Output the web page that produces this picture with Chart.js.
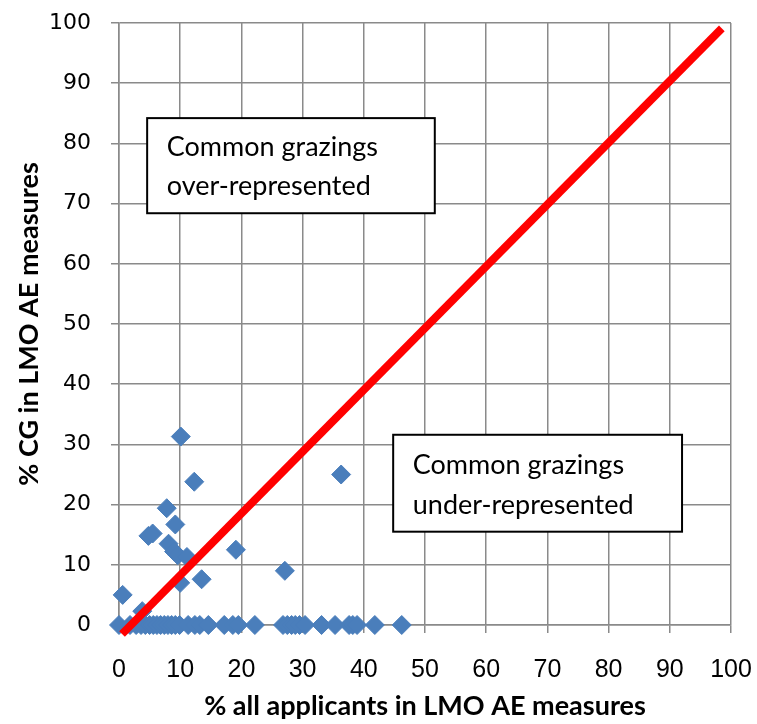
<!DOCTYPE html>
<html>
<head>
<meta charset="utf-8">
<script src="https://cdn.jsdelivr.net/npm/chart.js@4.4.1/dist/chart.umd.min.js"></script>
<style>
  html, body { margin: 0; padding: 0; background: #fff; }
</style>
</head>
<body>
<canvas id="cgChart" width="757" height="724"></canvas>
<script>
// % of all applicants vs % of common grazings in LMO AE measures
const allApplicants = [
    10.1, 12.3, 36.3, 7.8, 9.2, 4.8, 5.5, 8.1, 9.0, 9.6, 11.1, 19.1, 27.1, 13.5, 10.0, 0.6, 3.8,
    0, 1.8, 2.8, 3.6, 4.3, 5.0, 5.6, 6.2, 6.8, 7.4, 8.0, 8.6, 9.2, 9.9, 11.3, 12.4, 13.2, 14.6,
    17.2, 18.6, 19.5, 22.2, 26.8, 27.5, 28.2, 28.8, 29.5, 30.4, 33.1, 35.3, 37.6, 38.2, 38.9, 41.8, 46.2
];
const cgShare = [
    31.3, 23.8, 25.0, 19.4, 16.7, 14.8, 15.2, 13.5, 12.2, 11.6, 11.3, 12.5, 9.0, 7.6, 7.0, 5.0, 2.3,
    0, 0, 0, 0, 0, 0, 0, 0, 0, 0, 0, 0, 0, 0, 0, 0, 0, 0,
    0, 0, 0, 0, 0, 0, 0, 0, 0, 0, 0, 0, 0, 0, 0, 0, 0
];

// equal-share reference line as drawn in the original
const diagX = [0.5, 98.5];
const diagY = [-1.5, 99.1];

const xTicks = [0, 10, 20, 30, 40, 50, 60, 70, 80, 90, 100];
const yTicks = [0, 10, 20, 30, 40, 50, 60, 70, 80, 90, 100];

const xTitle = '% all applicants in LMO AE measures';
const yTitle = '% CG in LMO AE measures';
const boxTexts = [
    ['Common grazings', 'over-represented'],
    ['Common grazings', 'under-represented']
];

const gridColor = '#8a8a8a';

// text boxes, placed in data units
const boxes = [
    { x0: 4.6, x1: 51.6, y0: 84.2, y1: 68.4, tx: 7.8, lines: [79.4, 72.9] },
    { x0: 44.8, x1: 92.0, y0: 31.6, y1: 15.5, tx: 48.0, lines: [26.6, 19.9] }
];

const textBoxPlugin = {
    id: 'textBoxes',
    afterDatasetsDraw(chart) {
        const { ctx, scales: { x, y } } = chart;
        ctx.save();
        boxes.forEach((b, i) => {
            const left = x.getPixelForValue(b.x0);
            const right = x.getPixelForValue(b.x1);
            const top = y.getPixelForValue(b.y0);
            const bottom = y.getPixelForValue(b.y1);
            ctx.fillStyle = '#fff';
            ctx.fillRect(left, top, right - left, bottom - top);
            ctx.strokeStyle = '#000';
            ctx.lineWidth = 2;
            ctx.strokeRect(left, top, right - left, bottom - top);
            ctx.fillStyle = '#000';
            ctx.font = '27px Lato';
            ctx.textBaseline = 'middle';
            ctx.textAlign = 'left';
            boxTexts[i].forEach((t, j) => {
                ctx.fillText(t, x.getPixelForValue(b.tx), y.getPixelForValue(b.lines[j]));
            });
        });
        ctx.restore();
    }
};

const ctx = document.getElementById('cgChart').getContext('2d');

new Chart(ctx, {
    data: {
        datasets: [{
            type: 'line',
            data: diagX.map((v, i) => ({ x: v, y: diagY[i] })),
            borderColor: '#ff0000',
            borderWidth: 8,
            pointRadius: 0,
            clip: false,
            order: 0
        }, {
            type: 'scatter',
            data: allApplicants.map((v, i) => ({ x: v, y: cgShare[i] })),
            pointStyle: 'rectRot',
            pointRadius: 9.5,
            backgroundColor: '#4a7ebb',
            borderColor: '#4a7ebb',
            borderWidth: 1,
            clip: false,
            order: 1
        }]
    },
    plugins: [textBoxPlugin],
    options: {
        responsive: false,
        devicePixelRatio: 1,
        animation: false,
        layout: { padding: { top: 23, right: 26, bottom: 0, left: 0 } },
        plugins: {
            legend: { display: false },
            tooltip: { enabled: false }
        },
        scales: {
            x: {
                type: 'linear',
                min: 0,
                max: 100,
                afterBuildTicks: s => { s.ticks = xTicks.map(v => ({ value: v })); },
                afterFit: s => {
                    s.height = 99;
                    s.paddingLeft = 0;
                    s.paddingRight = 0;
                },
                grid: { color: gridColor, lineWidth: 1.5, tickLength: 8 },
                border: { color: gridColor, width: 1.5 },
                ticks: {
                    padding: 22,
                    color: '#000',
                    maxRotation: 0,
                    font: { family: 'Liberation Sans', size: 25 }
                },
                title: {
                    display: true,
                    text: xTitle,
                    color: '#000',
                    padding: { top: 0, bottom: 2 },
                    font: { family: 'Lato', size: 27, weight: 'bold' }
                }
            },
            y: {
                type: 'linear',
                min: 0,
                max: 100,
                afterBuildTicks: s => { s.ticks = yTicks.map(v => ({ value: v })); },
                afterFit: s => {
                    s.width = 119;
                    s.paddingTop = 0;
                    s.paddingBottom = 0;
                },
                grid: { color: gridColor, lineWidth: 1.5, tickLength: 8 },
                border: { color: gridColor, width: 1.5 },
                ticks: {
                    padding: 20,
                    color: '#000',
                    font: { family: 'DejaVu Sans', size: 22 }
                },
                title: {
                    display: true,
                    text: yTitle,
                    color: '#000',
                    padding: { top: 13, bottom: 0 },
                    font: { family: 'Lato', size: 27, weight: 'bold' }
                }
            }
        }
    }
});
</script>
</body>
</html>
